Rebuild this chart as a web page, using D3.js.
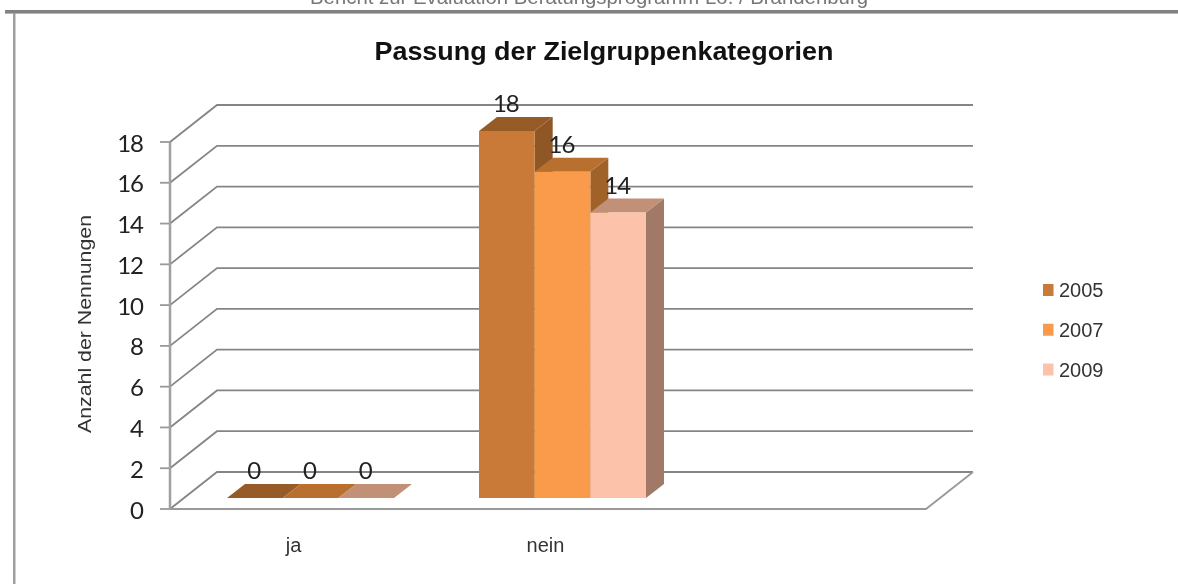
<!DOCTYPE html>
<html><head><meta charset="utf-8">
<script src="https://cdn.jsdelivr.net/npm/d3@7"></script>
<style>html,body{margin:0;padding:0;background:#fff;overflow:hidden}svg{display:block;filter:blur(0.45px)}
text{font-family:"Liberation Sans",Arial,sans-serif}</style></head><body>
<svg id="c" width="1178" height="584"></svg>
<script>
const categories = ["ja","nein"];
const years = ["2005","2007","2009"];
const values2005 = [0,18];
const values2007 = [0,16];
const values2009 = [0,14];
const yTicks = [0,2,4,6,8,10,12,14,16,18];
const frontColors = ["#c97a38","#f99b4b","#fcc3aa"];
const topColors = ["#975b28","#b9702f","#c29077"];
const sideColors = ["#8f5725","#a1622a","#a07a66"];
const series = [values2005,values2007,values2009];

const svg = d3.select("#c");
const grid="#858585";
svg.append("text").attr("x",589).attr("y",4).attr("text-anchor","middle")
  .attr("font-size",20).attr("textLength",558).attr("lengthAdjust","spacingAndGlyphs")
  .attr("fill","#777").text("Bericht zur Evaluation Beratungsprogramm Lo. / Brandenburg");
svg.append("rect").attr("x",5).attr("y",10).attr("width",1173).attr("height",3).attr("fill","#828282");
svg.append("rect").attr("x",5).attr("y",13).attr("width",1173).attr("height",1).attr("fill","#b4b4b4");
svg.append("rect").attr("x",13).attr("y",13).attr("width",2.5).attr("height",571).attr("fill","#a0a0a0");

const x = d3.scaleBand().domain([...categories,""]).range([170,926]);
const y = d3.scaleLinear().domain([0,18]).range([509,142]);
const bar = d3.scaleBand().domain(years).range([0,167]);
const wall={dx:47,dy:-37}, box={dx:18,dy:-14}, barOff=57, barBase=-11;

// gridlines + floor
const g=svg.append("g").attr("fill","none").attr("stroke",grid).attr("stroke-width",1.8);
yTicks.forEach(t=>{
  const p=[[170,y(t)],[170+wall.dx,y(t)+wall.dy],[x.range()[1]+wall.dx,y(t)+wall.dy]];
  g.append("path").attr("d",d3.line()(p));
  g.append("line").attr("x1",160).attr("x2",170).attr("y1",y(t)).attr("y2",y(t)).attr("stroke","#999");
});
g.append("path").attr("stroke","#999").attr("d",d3.line()([[170,y(0)],[926,y(0)],[926+wall.dx,y(0)+wall.dy]]));
g.append("line").attr("x1",170).attr("x2",170).attr("y1",y(18)).attr("y2",y(0)).attr("stroke","#a0a0a0").attr("stroke-width",2.5);

// bars
categories.forEach((c,ci)=>{
  const x0=x(c)+barOff, base=y(0)+barBase;
  years.forEach((yr,si)=>{
    const v=series[si][ci], l=x0+bar(yr), w=bar.bandwidth(), t=y(v)+barBase;
    const G=svg.append("g");
    G.append("path").attr("fill",sideColors[si]).attr("d",d3.line()([[l+w,t],[l+w+box.dx,t+box.dy],[l+w+box.dx,base+box.dy],[l+w,base]]));
    G.append("path").attr("fill",topColors[si]).attr("d",d3.line()([[l,t],[l+box.dx,t+box.dy],[l+w+box.dx,t+box.dy],[l+w,t]]));
    G.append("rect").attr("x",l).attr("y",t).attr("width",w).attr("height",base-t).attr("fill",frontColors[si]);
  });
  years.forEach((yr,si)=>{
    const v=series[si][ci], l=x0+bar(yr), w=bar.bandwidth(), t=y(v)+barBase;
    svg.append("text").attr("x",l+w/2-1).attr("y",t+box.dy-5).attr("text-anchor","middle")
      .style("font-family","Lato").style("letter-spacing","-1px").attr("font-size",24).attr("fill","#222").text(v);
  });
});

// axis labels
yTicks.forEach(t=>svg.append("text").attr("x",143).attr("y",y(t)+9.5).attr("text-anchor","end")
  .style("font-family","Lato").style("letter-spacing","-1px").attr("font-size",24).attr("fill","#222").text(t));
categories.forEach(c=>svg.append("text").attr("x",x(c)+x.bandwidth()/2-2.5).attr("y",552).attr("text-anchor","middle")
  .attr("font-size",20).attr("fill","#333").text(c));
svg.append("text").attr("transform","translate(91,324) rotate(-90)").attr("text-anchor","middle")
  .attr("font-size",18).attr("textLength",218).attr("lengthAdjust","spacingAndGlyphs").attr("fill","#333").text("Anzahl der Nennungen");
svg.append("text").attr("x",604).attr("y",60).attr("text-anchor","middle").attr("font-size",26)
  .attr("textLength",459).attr("lengthAdjust","spacingAndGlyphs")
  .attr("font-weight","bold").attr("fill","#111").text("Passung der Zielgruppenkategorien");

// legend
const ly=d3.scalePoint().domain(years).range([290,369.5]);
years.forEach((yr,i)=>{
  svg.append("rect").attr("x",1043).attr("y",ly(yr)-6).attr("width",10.5).attr("height",12).attr("fill",frontColors[i]);
  svg.append("text").attr("x",1059).attr("y",ly(yr)+7).attr("font-size",20).attr("fill","#333").text(yr);
});
</script></body></html>
